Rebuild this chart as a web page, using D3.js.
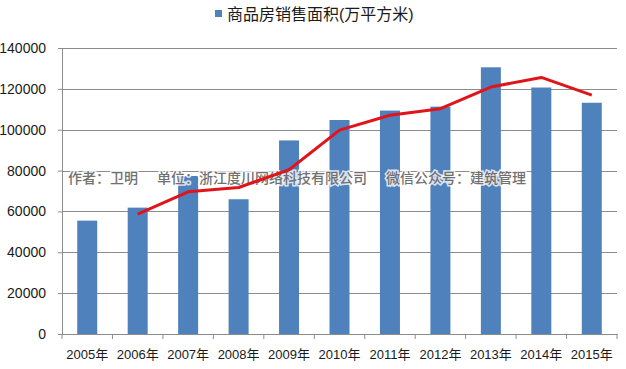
<!DOCTYPE html>
<html><head><meta charset="utf-8">
<script src="https://cdn.jsdelivr.net/npm/d3@7/dist/d3.min.js"></script>
<style>
html,body{margin:0;padding:0;background:#fff;}
svg text{font-family:"Liberation Sans",Arial,"Noto Sans CJK SC",sans-serif;}
</style></head>
<body>
<svg id="chart" width="626" height="369"></svg>
<script>
const categories = ["2005年","2006年","2007年","2008年","2009年","2010年","2011年","2012年","2013年","2014年","2015年"];
const salesArea = [55486, 61857, 77355, 65970, 94755, 104765, 109367, 111304, 130551, 120649, 113200];
const trendCategories = ["2006年","2007年","2008年","2009年","2010年","2011年","2012年","2013年","2014年","2015年"];
const trendValues = [58700, 69600, 71700, 80400, 99800, 107100, 110300, 120900, 125600, 116900];
const yTicks = [0, 20000, 40000, 60000, 80000, 100000, 120000, 140000];
const legendLabel = "商品房销售面积(万平方米)";
const watermark = ["作者：卫明", "单位：浙江度川网络科技有限公司", "微信公众号：建筑管理"];

const svg = d3.select("#chart");
const mLeft = 62, mRight = 617, mTop = 48, mBottom = 334;

const xb = d3.scaleBand().domain(categories).range([mLeft, mRight]);
const y = d3.scaleLinear().domain([0, 140000]).range([mBottom, mTop]);

// gridlines
svg.append("g").selectAll("line").data(yTicks.filter(d => d > 0)).join("line")
  .attr("x1", mLeft).attr("x2", mRight)
  .attr("y1", d => Math.round(y(d)) + 0.5).attr("y2", d => Math.round(y(d)) + 0.5)
  .attr("stroke", "#8c8c8c").attr("stroke-width", 1);

// bars
svg.append("g").selectAll("rect").data(salesArea).join("rect")
  .attr("x", (d, i) => xb(categories[i]) + xb.bandwidth() / 2 - 10)
  .attr("width", 20)
  .attr("y", d => y(d))
  .attr("height", d => y(0) - y(d))
  .attr("fill", "#4f81bd");

// y axis
const yAxis = d3.axisLeft(y).tickValues(yTicks).tickSize(4).tickPadding(12).tickFormat(d3.format("d"));
const gy = svg.append("g").attr("transform", `translate(${mLeft},0)`).call(yAxis);
gy.select(".domain").attr("stroke", "#8c8c8c");
gy.selectAll(".tick line").attr("stroke", "#8c8c8c");
gy.selectAll("text").attr("font-size", 14).attr("fill", "#1a1a1a");

// x axis
const xAxis = d3.axisBottom(xb).tickSize(0).tickPadding(16);
const gx = svg.append("g").attr("transform", `translate(0,${mBottom})`).call(xAxis);
gx.select(".domain").attr("stroke", "#8c8c8c");
gx.selectAll("text").attr("font-size", 13).attr("fill", "#1a1a1a");
gx.selectAll("line.sep").data(categories.concat(["end"])).join("line").attr("class", "sep")
  .attr("x1", (d, i) => mLeft + i * xb.step()).attr("x2", (d, i) => mLeft + i * xb.step())
  .attr("y1", 0).attr("y2", 5).attr("stroke", "#8c8c8c");

// watermark
const wm = svg.append("text").attr("x", 68).attr("y", 183)
  .attr("font-size", 14).attr("font-weight", 500)
  .attr("fill", "#707070").attr("stroke", "rgba(255,255,255,0.8)").attr("stroke-width", 3)
  .attr("paint-order", "stroke").attr("font-family", "'Noto Sans CJK SC',sans-serif");
wm.selectAll("tspan").data(watermark).join("tspan")
  .attr("dx", (d, i) => i === 0 ? 0 : 19).text(d => d);

// trend line
const line = d3.line().x((d, i) => xb(trendCategories[i]) + xb.bandwidth() / 2).y(d => y(d));
svg.append("path").datum(trendValues).attr("d", line)
  .attr("fill", "none").attr("stroke", "#e0141b").attr("stroke-width", 3)
  .attr("stroke-linejoin", "round").attr("stroke-linecap", "butt");

// legend
svg.append("rect").attr("x", 215).attr("y", 10).attr("width", 7).attr("height", 7).attr("fill", "#4f81bd");
svg.append("text").attr("x", 227).attr("y", 20).attr("font-size", 16).attr("fill", "#1a1a1a")
  .attr("font-family", "'Noto Sans CJK SC',sans-serif").text(legendLabel);
</script>
</body></html>
